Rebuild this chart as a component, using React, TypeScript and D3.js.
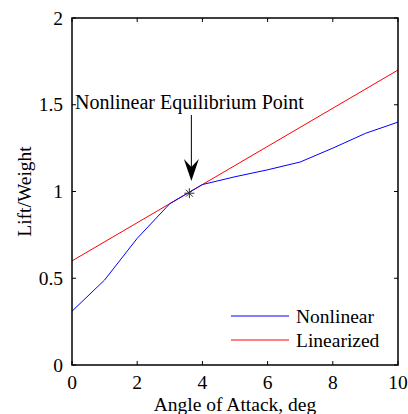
import React from "react";
import * as d3 from "d3";

const alpha = [0, 1, 2, 3, 4, 5, 6, 7, 8, 9, 10];
const nonlinear = [0.31, 0.49, 0.73, 0.93, 1.04, 1.085, 1.125, 1.17, 1.25, 1.335, 1.4];
const linAlpha = [0, 10];
const linearized = [0.6, 1.7];
const eqPoint = [3.6, 0.99];
const xTicks = [0, 2, 4, 6, 8, 10];
const yTicks = [0, 0.5, 1, 1.5, 2];
const seriesNames = ["Nonlinear", "Linearized"];
const seriesColors = ["#0000ff", "#ff0000"];
const annotation = "Nonlinear Equilibrium Point";

export default function App() {
  const W = 408, H = 414;
  const L = 72, R = 398, T = 18, B = 365;
  const x = d3.scaleLinear().domain([0, 10]).range([L, R]);
  const y = d3.scaleLinear().domain([0, 2]).range([B, T]);
  const line = d3.line<[number, number]>().x(d => x(d[0])).y(d => y(d[1]));
  const nl = line(alpha.map((a, i) => [a, nonlinear[i]] as [number, number]))!;
  const li = line(linAlpha.map((a, i) => [a, linearized[i]] as [number, number]))!;
  const font = "'Liberation Serif', 'Times New Roman', serif";
  const fs = 19.5;
  const tk = 4;
  const sx = x(eqPoint[0]), sy = y(eqPoint[1]);
  const arrowX = sx + 2;
  const arrowTop = 115, arrowTip = 181;
  const s = 5;
  return (
    <svg width={W} height={H} style={{ position: "absolute", left: 0, top: 0 }}>
      <rect width={W} height={H} fill="#fff" />
      <path d={li} fill="none" stroke={seriesColors[1]} strokeWidth={1} />
      <path d={nl} fill="none" stroke={seriesColors[0]} strokeWidth={1} />
      <g stroke="#333" strokeWidth={1}>
        <line x1={sx - s} x2={sx + s} y1={sy} y2={sy} />
        <line x1={sx} x2={sx} y1={sy - s} y2={sy + s} />
        <line x1={sx - s * 0.7} x2={sx + s * 0.7} y1={sy - s * 0.7} y2={sy + s * 0.7} />
        <line x1={sx - s * 0.7} x2={sx + s * 0.7} y1={sy + s * 0.7} y2={sy - s * 0.7} />
      </g>
      <line x1={arrowX} x2={arrowX} y1={arrowTop} y2={arrowTip - 10} stroke="#000" strokeWidth={1} />
      <path d={`M${arrowX},${arrowTip} L${arrowX - 7.5},${arrowTip - 22} L${arrowX},${arrowTip - 14} L${arrowX + 7.5},${arrowTip - 22} Z`} fill="#000" />
      <text x={75} y={109} fontFamily={font} fontSize={20}>{annotation}</text>
      <rect x={L} y={T} width={R - L} height={B - T} fill="none" stroke="#000" strokeWidth={1.5} />
      {xTicks.map(t => (
        <g key={"x" + t}>
          <line x1={x(t)} x2={x(t)} y1={B} y2={B - tk} stroke="#000" />
          <line x1={x(t)} x2={x(t)} y1={T} y2={T + tk} stroke="#000" />
          <text x={x(t)} y={389} textAnchor="middle" fontFamily={font} fontSize={fs}>{t}</text>
        </g>
      ))}
      {yTicks.map(t => (
        <g key={"y" + t}>
          <line x1={L} x2={L + tk} y1={y(t)} y2={y(t)} stroke="#000" />
          <line x1={R} x2={R - tk} y1={y(t)} y2={y(t)} stroke="#000" />
          <text x={63} y={y(t) + 6.5} textAnchor="end" fontFamily={font} fontSize={fs}>{t}</text>
        </g>
      ))}
      <text x={(L + R) / 2} y={411} textAnchor="middle" fontFamily={font} fontSize={fs}>Angle of Attack, deg</text>
      <text transform={`translate(31,${(T + B) / 2}) rotate(-90)`} textAnchor="middle" fontFamily={font} fontSize={fs}>Lift/Weight</text>
      {seriesNames.map((n, i) => (
        <g key={n}>
          <line x1={231} x2={289} y1={316 + i * 24} y2={316 + i * 24} stroke={seriesColors[i]} strokeWidth={1} />
          <text x={296} y={323 + i * 24} fontFamily={font} fontSize={fs}>{n}</text>
        </g>
      ))}
    </svg>
  );
}
